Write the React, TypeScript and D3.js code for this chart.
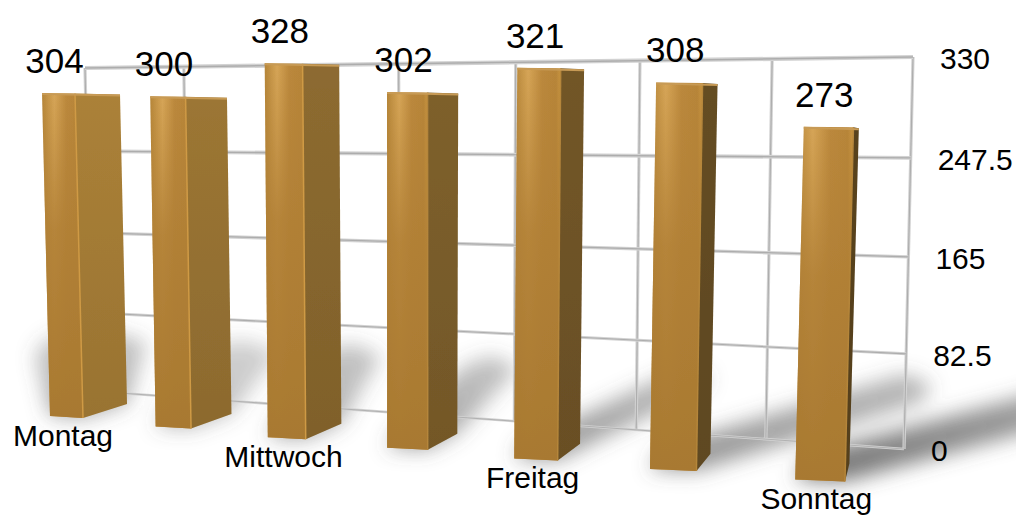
import React from "react";
import * as d3 from "d3";

// Weekly counts, one bar per weekday
const categories = ["Montag", "Dienstag", "Mittwoch", "Donnerstag", "Freitag", "Samstag", "Sonntag"];
const counts = [304, 300, 328, 302, 321, 308, 273];
const axisTicks = [0, 82.5, 165, 247.5, 330];
const axisMax = 330;

const WIDTH = 1016;
const HEIGHT = 515;
const FONT = '"Liberation Sans", Arial, sans-serif';

// Foreshortening along the row of bars: bars further along sit closer to the viewer
const slotIndex = (i: number) => i / (1 - 0.029 * i);
const indexDomain = [0, 6];

const baseY = d3.scaleLinear().domain(indexDomain).range([418, 481.6]);
const heightPerUnit = d3.scaleLinear().domain(indexDomain).range([1.069, 1.3]);
const baseLeftX = d3.scaleLinear().domain([0, 1]).range([50, 152.6]);
const frontWidth = d3.scaleLinear().domain([0, 1]).range([33, 35.3]);
const leanAtTop = d3.scaleLinear().domain([0, 1]).range([-8, -5.6]);
const backRise = d3.scaleLinear().domain(indexDomain).range([14, 18]);
const sideWidth = (i: number) => 45 - 3 * i - 0.6 * i * i;
const valueShift = d3.scaleLinear().domain(indexDomain).range([12.5, 20.5]);
const nameShift = d3.scaleLinear().domain(indexDomain).range([13, 21]);
const labelBaseline = d3.scaleLinear().domain(indexDomain).range([446, 509]);

// Wall behind the bars, seen in perspective
const wallColumns = 7;
const wallDepth = (t: number) => t / (t + (1 - t) * 1.23);
const wallHeight = (t: number) => t / (t + (1 - t) * 1.04);
const wallTopX = d3.scaleLinear().range([85, 913]);
const wallBottomX = d3.scaleLinear().range([92, 904]);
const wallTopY = d3.scaleLinear().range([68, 57]);
const wallBottomY = d3.scaleLinear().range([391, 449]);
const wallLeftX = d3.scaleLinear().range([92, 85]);
const wallRightX = d3.scaleLinear().range([904, 913]);
const wallLeftY = d3.scaleLinear().range([391, 68]);
const wallRightY = d3.scaleLinear().range([449, 57]);
const ruleWeight = d3.scaleLinear().domain([0, 1]).range([2.6, 4.2]);

// Light falls from the upper left: shadows fan out over the floor
const shadowDriftX = d3.scaleOrdinal<number, number>().domain(d3.range(7)).range([0, 40, 40, 65, 135, 225, 230]);
const shadowDriftY = d3.scaleOrdinal<number, number>().domain(d3.range(7)).range([-62, -62, -68, -66, -65, -68, -62]);
const shadowSpread = d3.scaleOrdinal<number, number>().domain(d3.range(7)).range([1.45, 1.2, 1, 0.9, 0.9, 0.9, 1]);
const shadowStrength = d3.scaleOrdinal<number, number>().domain(d3.range(7)).range([0.52, 0.42, 0.52, 0.55, 0.6, 0.62, 0.8]);

const sideColor = d3.scaleLinear<string>().domain([0, 3, 6]).range(["#ab8138", "#7e602c", "#59431f"]);

type Pt = [number, number];
const outline = d3.line<Pt>().curve(d3.curveLinearClosed);

function barGeometry(value: number, i: number) {
  const u = slotIndex(i);
  const base = baseY(i);
  const top = base - heightPerUnit(i) * value;
  const left = baseLeftX(u);
  const front = frontWidth(u);
  const side = sideWidth(i);
  const lean = leanAtTop(u) * (value / 304);
  const rise = backRise(i);
  return {
    top,
    base,
    topLeft: [left + lean, top] as Pt,
    topEdge: [left + lean + front, top + 0.5] as Pt,
    topRight: [left + lean + front + side, top + 1.5] as Pt,
    bottomLeft: [left, base - 2] as Pt,
    bottomEdge: [left + front, base] as Pt,
    bottomRight: [left + front + side - 1, base - rise] as Pt,
  };
}

function shadowPath(value: number, i: number) {
  const g = barGeometry(value, i);
  const footprint: Pt[] = [
    g.bottomLeft,
    g.bottomEdge,
    g.bottomRight,
    [g.bottomRight[0] - 30, g.bottomRight[1] - 12],
    [g.bottomLeft[0] + 10, g.bottomLeft[1] - 16],
  ];
  const cx = d3.mean(footprint, (p) => p[0]) as number;
  const dx = shadowDriftX(i);
  const dy = shadowDriftY(i);
  const spread = shadowSpread(i);
  const tip: Pt[] = footprint.map((p) => [cx + (p[0] - cx) * spread + dx, p[1] + dy]);
  const hull = d3.polygonHull([...footprint, ...tip]) as Pt[];
  return { d: outline(hull) as string, x1: cx, y1: g.base, x2: cx + dx, y2: g.base + dy };
}

function GridRule({ x1, y1, x2, y2, weight }: { x1: number; y1: number; x2: number; y2: number; weight: number }) {
  return (
    <g>
      <line x1={x1} y1={y1} x2={x2} y2={y2} stroke="#d2d2d2" strokeWidth={weight} />
      <line x1={x1} y1={y1} x2={x2} y2={y2} stroke="#adadad" strokeWidth={weight * 0.35} />
    </g>
  );
}

export default function App() {
  const columnStops = d3.range(wallColumns + 1).map((j) => wallDepth(j / wallColumns));
  const rowStops = axisTicks.map((v) => ({ v, f: wallHeight(v / axisMax) }));
  const bars = counts.map((v, i) => ({ v, i, g: barGeometry(v, i) }));

  return (
    <svg
      width={WIDTH}
      height={HEIGHT}
      viewBox={`0 0 ${WIDTH} ${HEIGHT}`}
      style={{ position: "absolute", left: 0, top: 0, display: "block", background: "#fff" }}
    >
      <defs>
        <filter id="floorBlur" filterUnits="userSpaceOnUse" x={-100} y={0} width={1300} height={700}>
          <feGaussianBlur stdDeviation={10} />
        </filter>
        <filter id="softEdge" filterUnits="userSpaceOnUse" x={0} y={0} width={WIDTH} height={HEIGHT}>
          <feGaussianBlur stdDeviation={0.7} />
        </filter>
        <linearGradient id="frontSweep" x1={0} x2={1} y1={0} y2={0}>
          <stop offset="0" stopColor="#b58538" />
          <stop offset="0.3" stopColor="#d6a557" />
          <stop offset="0.6" stopColor="#bb883c" />
          <stop offset="0.9" stopColor="#b78539" />
          <stop offset="1" stopColor="#c99540" />
        </linearGradient>
        <linearGradient id="frontSettle" x1={0} x2={0} y1={0} y2={1}>
          <stop offset="0" stopColor="#b07f35" stopOpacity={0} />
          <stop offset="0.42" stopColor="#b07f35" stopOpacity={0.85} />
          <stop offset="1" stopColor="#a87931" stopOpacity={1} />
        </linearGradient>
        <linearGradient id="sideSettle" x1={0} x2={0} y1={0} y2={1}>
          <stop offset="0" stopColor="#3a2a10" stopOpacity={0} />
          <stop offset="1" stopColor="#3a2a10" stopOpacity={0.16} />
        </linearGradient>
        {bars.map(({ v, i }) => {
          const s = shadowPath(v, i);
          return (
            <linearGradient
              key={i}
              id={`shadow-${i}`}
              gradientUnits="userSpaceOnUse"
              x1={s.x1}
              y1={s.y1}
              x2={s.x2}
              y2={s.y2}
            >
              <stop offset="0" stopColor="#555" stopOpacity={shadowStrength(i)} />
              <stop offset="1" stopColor="#555" stopOpacity={shadowStrength(i) * 0.7} />
            </linearGradient>
          );
        })}
      </defs>

      <rect width={WIDTH} height={HEIGHT} fill="#fff" />

      {/* floor shadows */}
      <g filter="url(#floorBlur)">
        {bars.map(({ v, i }) => (
          <path key={i} d={shadowPath(v, i).d} fill={`url(#shadow-${i})`} />
        ))}
      </g>

      {/* wall grid */}
      <g filter="url(#softEdge)">
        {columnStops.map((p, j) => (
          <GridRule key={j} x1={wallTopX(p)} y1={wallTopY(p)} x2={wallBottomX(p)} y2={wallBottomY(p)} weight={3.2} />
        ))}
        {rowStops.map(({ v, f }) => (
          <GridRule
            key={v}
            x1={wallLeftX(f)}
            y1={wallLeftY(f)}
            x2={wallRightX(f)}
            y2={wallRightY(f)}
            weight={ruleWeight(f)}
          />
        ))}
      </g>

      {/* bars: front face, side face, highlight along the shared edge and top bevel */}
      <g filter="url(#softEdge)">
        {bars.map(({ i, g }) => {
          const front = outline([g.topLeft, g.topEdge, g.bottomEdge, g.bottomLeft]) as string;
          const side = outline([g.topEdge, g.topRight, g.bottomRight, g.bottomEdge]) as string;
          return (
            <g key={i}>
              <path d={front} fill="url(#frontSweep)" />
              <path d={front} fill="url(#frontSettle)" />
              <path d={side} fill={sideColor(i)} />
              <path d={side} fill="url(#sideSettle)" />
              <line
                x1={g.topEdge[0]}
                y1={g.topEdge[1]}
                x2={g.bottomEdge[0]}
                y2={g.bottomEdge[1]}
                stroke={i < 3 ? "#cf9a45" : "#b5863b"}
                strokeWidth={1.5}
              />
              <line
                x1={g.topLeft[0]}
                y1={g.topLeft[1] + 1}
                x2={g.topRight[0]}
                y2={g.topRight[1] + 1}
                stroke="#c79a55"
                strokeWidth={2}
              />
            </g>
          );
        })}
      </g>

      {/* value labels above each bar */}
      <g fontFamily={FONT} fontSize={35} fill="#000" textAnchor="middle">
        {bars.map(({ v, i, g }) => (
          <text key={i} x={g.topLeft[0] + valueShift(i)} y={g.top - 20}>
            {v}
          </text>
        ))}
      </g>

      {/* every other weekday is named below its bar */}
      <g fontFamily={FONT} fontSize={30} fill="#000" textAnchor="middle">
        {bars
          .filter(({ i }) => i % 2 === 0)
          .map(({ i, g }) => (
            <text key={i} x={g.bottomLeft[0] + nameShift(i)} y={labelBaseline(i)}>
              {categories[i]}
            </text>
          ))}
      </g>

      {/* value axis on the right edge of the wall */}
      <g fontFamily={FONT} fontSize={30} fill="#000">
        {rowStops.map(({ v, f }) => (
          <text key={v} x={wallRightX(f) + 27} y={wallRightY(f) + 12}>
            {v}
          </text>
        ))}
      </g>
    </svg>
  );
}
